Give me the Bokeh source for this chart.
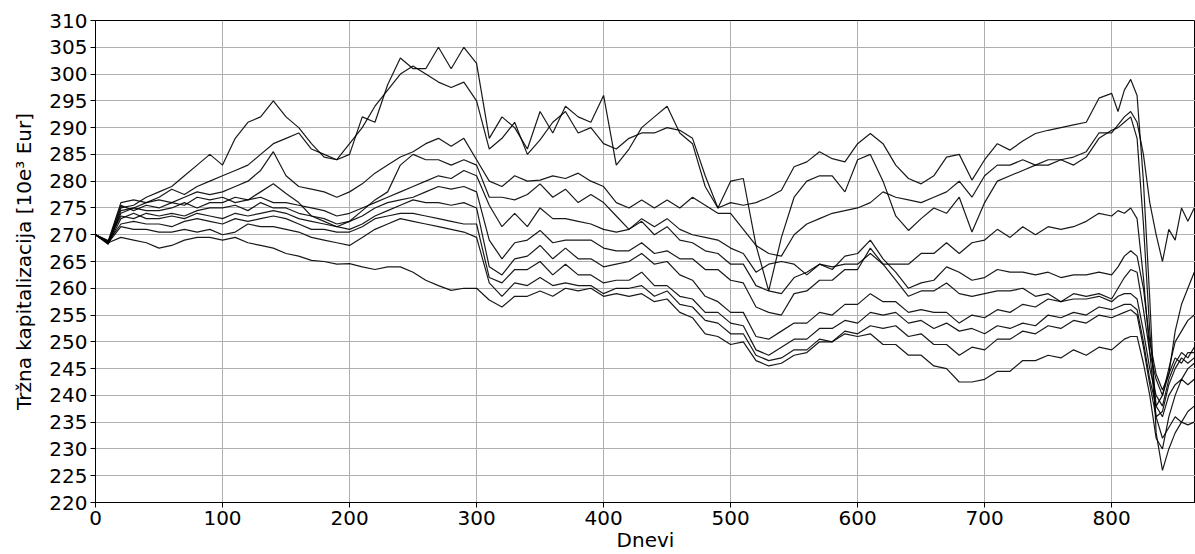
from bokeh.plotting import figure
from bokeh.models import Range1d, FixedTicker
from bokeh.embed import file_html
from bokeh.resources import INLINE

days = [0, 10, 20, 30, 40, 50, 60, 70, 80, 90, 100, 110, 120, 130, 140, 150, 160, 170, 180, 190,
        200, 210, 220, 230, 240, 250, 260, 270, 280, 290, 300, 310, 320, 330, 340, 350, 360, 370,
        380, 390, 400, 410, 420, 430, 440, 450, 460, 470, 480, 490, 500, 510, 520, 530, 540, 550,
        560, 570, 580, 590, 600, 610, 620, 630, 640, 650, 660, 670, 680, 690, 700, 710, 720, 730,
        740, 750, 760, 770, 780, 790, 800, 805, 810, 815, 820, 825, 830, 835, 840, 845, 850, 855,
        860, 865]

portfelj_a = [270, 268.5, 275, 275.5, 277, 278, 279, 281, 283, 285, 283, 288, 291, 292, 295, 292, 290, 287, 284.5, 284,
              285, 292, 291, 298, 303, 301, 301, 305, 301, 305, 302,
              288, 292, 290, 286, 293, 289, 294, 292, 291, 296, 283, 286, 290, 292, 294, 289, 287, 279, 275,
              280, 280.5, 268, 259.5, 269.5,
              277, 280, 281, 281, 278, 284, 285, 280, 273.5, 270.8, 273, 275, 274, 277, 270.5, 276, 280, 281,
              282, 283, 283, 284, 284.5, 285.5, 289, 289,
              290.5, 292, 293, 291, 285, 276, 270, 265, 271, 269, 275, 272.5, 275]

portfelj_b = [270, 268.8, 276, 276.5, 276, 277, 278.5, 277.5, 279, 280, 281, 282, 283, 285, 287, 288, 289, 286, 285, 284,
              287, 290, 294, 297, 300, 301.5, 300, 298.5, 297.5, 298.5, 295,
              286, 288, 291, 285, 287.7, 291, 293, 289, 290, 287, 286, 288, 289, 289, 290, 289.5, 288, 281, 275,
              276, 275.5, 276, 277, 278.3,
              282.7, 283.6, 285.5, 284.2, 283.6, 287, 288.9, 287, 283, 280.5, 279.5, 281, 284.5, 285, 280.2, 284,
              287, 285.8, 287.5, 288.9, 289.5, 290, 290.5, 291, 295.5, 296.4,
              293, 297, 299, 296, 280, 258, 233, 226, 230, 233, 235, 237, 238]

portfelj_c = [270, 268.2, 274.5, 275, 276, 276.5, 276, 277, 278, 277.5, 278, 279, 280, 282, 285.5, 281, 279, 278.5, 278, 277,
              278, 279.5, 281.5, 283, 284.5, 285.5, 287, 288, 286.5, 288, 284,
              280, 279, 281, 280, 280.2, 281, 280.5, 281.5, 280, 279, 276, 275, 276.5, 275, 276.5, 275, 277, 275.5,
              274, 274, 271, 268, 266.5, 266,
              270, 272, 273, 274, 274.5, 275, 276, 278, 277, 276.5, 276, 277, 278, 280, 277, 281, 283, 283, 284,
              283, 284, 284, 283, 284.5, 288, 289.5,
              290, 291, 292, 288, 272, 252, 238, 236, 240, 242, 243, 242, 243]

portfelj_d = [270, 268.6, 275.5, 274.5, 275.5, 275, 276, 275.5, 277, 276.5, 277, 276, 276.5, 278, 279.5, 277.7, 276, 273.5,
              272.5, 271.5, 272.5, 274.5, 276.5, 278, 283, 285, 284, 284, 283, 284, 283,
              277, 277, 276.5, 277.5, 279.5, 277, 278.5, 276, 277.5, 276, 273.5, 271, 273, 271.5, 273, 271,
              270, 269.5, 269, 267.5, 266.5, 263, 264.5, 265,
              264.5, 262.5, 264.5, 264, 264.5, 264.5, 266.5, 264.5, 264.5, 264.5, 266.5, 266.5, 268.5, 266.5, 268.5,
              269, 271, 269.5, 271.5, 270, 271.5, 271, 271.5, 272.5, 274, 273.5,
              274.5, 274, 275, 273, 262, 248, 236, 232, 234, 236, 235, 234.5, 235]

portfelj_e = [270, 268.4, 274, 275, 274.5, 274.5, 275, 276, 275, 276, 276, 277, 276.5, 277, 276, 276, 275.5, 275, 274.5,
              273.5, 274, 275, 276, 277, 278, 279, 280, 281, 280.5, 282, 281,
              275.5, 271.5, 274, 271.5, 275, 273, 273, 272.5, 272, 271, 270.5, 271, 272.5, 270, 271.5, 269,
              268.5, 267, 266.5, 264.5, 264.5, 260.5, 259.5, 259,
              262, 263, 264.5, 263.5, 266, 266.5, 269, 265.5, 263, 260, 261, 261.5, 264, 263, 261.5, 262,
              263.5, 263, 263, 262.5, 263, 262, 262.5, 262.5, 263, 262.5,
              264, 266, 267, 266, 260, 250, 244, 241, 244, 252, 257, 260, 263]

portfelj_f = [270, 268.9, 273.5, 273, 274, 273.5, 274, 273.5, 274.5, 275, 275, 275.5, 274.5, 276, 275, 275, 274, 273.5,
              273, 272, 272.5, 273.5, 275, 276, 276.5, 277, 278, 279, 278.5, 279, 278,
              269, 265.5, 268.5, 269, 270.8, 268.5, 269, 269, 269, 267.5, 267, 267, 268.5, 266.5, 267, 265.5,
              265.5, 263.5, 263.5, 261.5, 261, 256.5, 255.5, 255,
              259, 259.5, 261.5, 261.5, 263.5, 263.5, 267.5, 264.5, 261.5, 258.5, 259.5, 259.5, 261, 259, 258.5,
              259, 259.5, 259.5, 260, 258.5, 259, 257.5, 259, 258.5, 259, 258,
              260, 262, 263.5, 263, 256, 248, 243, 240, 245, 250, 252, 254, 255]

portfelj_g = [270, 268.3, 273, 274, 273, 273, 273.5, 273, 274, 273.5, 273, 274, 273.5, 274, 274.5, 274, 273, 272.5, 272,
              271.5, 271, 272, 273.5, 274.5, 275.5, 276.5, 276, 276, 275.5, 276, 275,
              264, 262.5, 265.5, 266, 268, 265.5, 267.5, 265.5, 265.5, 264, 264.5, 265, 266.5, 264.5, 265,
              262.5, 261.5, 258.5, 257.5, 255.5, 255.5, 251, 250.5, 252,
              253.5, 253.5, 255.5, 255, 257, 257, 259, 257.5, 257.5, 255.5, 256, 255.5, 255.5, 253.5, 255,
              254.5, 256, 255.5, 257, 256.5, 258, 257.5, 258, 258, 258.5, 257.5,
              258.5, 259, 259, 258, 252, 245, 240, 238, 243, 246, 248, 247, 249]

portfelj_h = [270, 268.7, 272, 272.5, 272, 272, 271.5, 272.5, 273, 272.5, 272, 273, 272.5, 273, 273.5, 273, 272, 271, 271,
              270.5, 270.5, 271.5, 273, 273.5, 274, 274, 273.5, 273, 272.5, 272, 272,
              262, 261, 263.5, 263.5, 265, 262.5, 264.5, 262.5, 262.5, 261, 261.5, 261.5, 263, 260.5, 260.5,
              258.5, 258, 255.5, 255.5, 253.5, 253, 248.5, 247.5, 249,
              250.5, 250.5, 252.5, 252.5, 254, 253.5, 255.5, 255, 255.5, 253.5, 254, 252.5, 253.5, 252, 252.5,
              251.5, 253, 252.5, 253.5, 253, 255, 254.5, 255.5, 255, 256.5, 256,
              256.5, 257, 257, 256, 250, 243, 238, 240, 244, 247, 246, 248, 248]

portfelj_i = [270, 268.5, 271.5, 271, 271, 270.5, 270.5, 271, 270.5, 271, 270, 270.5, 272, 271.5, 271.5, 271, 270.5,
              269.5, 269, 268.5, 268, 269.5, 271, 272, 273, 272.5, 272, 271.5, 271, 270.5, 269.5,
              261, 258.5, 261, 260.5, 262, 260.5, 261, 260.5, 260.5, 259, 260, 260, 260.5, 258.5, 259.5, 257,
              256.5, 254, 253.5, 251.5, 251.5, 247.5, 246.5, 247,
              248.5, 248.5, 250.5, 250, 252, 251.5, 253, 252.5, 253, 251, 251.5, 249.5, 249.5, 247.5, 249,
              248.5, 250.5, 250.5, 252, 251.5, 253, 252.5, 254, 253.5, 255, 254.5,
              255, 255.5, 256, 255, 249, 242, 236, 237, 242, 245, 247, 246, 247]

portfelj_k = [270, 268.5, 269.5, 269, 268.5, 267.5, 268, 269, 269.5, 269.5, 269, 269.5, 268.5, 268, 267.5, 266.5, 266,
              265.2, 265, 264.5, 264.6, 264, 263.5, 264, 264, 263, 261.5, 260.5, 259.6, 260, 260,
              257.8, 256.5, 258.5, 258.5, 259.5, 258.5, 260, 259.5, 260, 258.5, 259, 258.5, 259, 257.5, 258,
              255.5, 254.5, 251.5, 251, 249.5, 250, 246.5, 245.5, 246,
              247.5, 248, 250, 250, 251.5, 251, 251.5, 249.5, 249.5, 247.5, 247.5, 245.5, 245, 242.5, 242.5,
              243, 244.5, 244.5, 246.5, 246.5, 247.5, 247, 248.5, 247.5, 249, 248.5,
              249.5, 250.5, 251, 251, 246, 240, 232, 230, 236, 240, 243, 245, 246]

x_ticks = [0, 100, 200, 300, 400, 500, 600, 700, 800]
y_ticks = [220, 225, 230, 235, 240, 245, 250, 255, 260, 265, 270, 275, 280, 285, 290, 295, 300, 305, 310]

x_label = "Dnevi"
y_label = "Tržna kapitalizacija [10e³ Eur]"

portfelji = [portfelj_a, portfelj_b, portfelj_c, portfelj_d, portfelj_e,
             portfelj_f, portfelj_g, portfelj_h, portfelj_i, portfelj_k]

p = figure(width=1195, height=554, output_backend="svg", toolbar_location=None,
           x_range=Range1d(0, 866), y_range=Range1d(220, 310),
           min_border_left=95, min_border_right=0, min_border_top=20, min_border_bottom=52)

for s in portfelji:
    p.line(days, s, line_color="black", line_width=1.2, line_alpha=0.9)

p.xaxis.ticker = FixedTicker(ticks=x_ticks)
p.yaxis.ticker = FixedTicker(ticks=y_ticks)
p.xaxis.axis_label = x_label
p.yaxis.axis_label = y_label

for ax in (p.xaxis[0], p.yaxis[0]):
    ax.major_label_text_font = "DejaVu Sans"
    ax.major_label_text_font_size = "20px"
    ax.major_label_text_color = "black"
    ax.axis_label_text_font = "DejaVu Sans"
    ax.axis_label_text_font_size = "20px"
    ax.axis_label_text_font_style = "normal"
    ax.axis_label_text_color = "black"
    ax.minor_tick_line_color = None
    ax.major_tick_in = 0
    ax.major_tick_out = 5
    ax.major_tick_line_color = "black"
    ax.axis_line_color = "black"
    ax.major_label_standoff = 3

p.xaxis[0].axis_label_standoff = 0
p.yaxis[0].axis_label_standoff = 10

p.grid.grid_line_color = "#b0b0b0"
p.grid.grid_line_width = 1
p.outline_line_color = "black"
p.background_fill_color = "white"
p.border_fill_color = "white"

open("out.html", "w").write(file_html(p, INLINE))
